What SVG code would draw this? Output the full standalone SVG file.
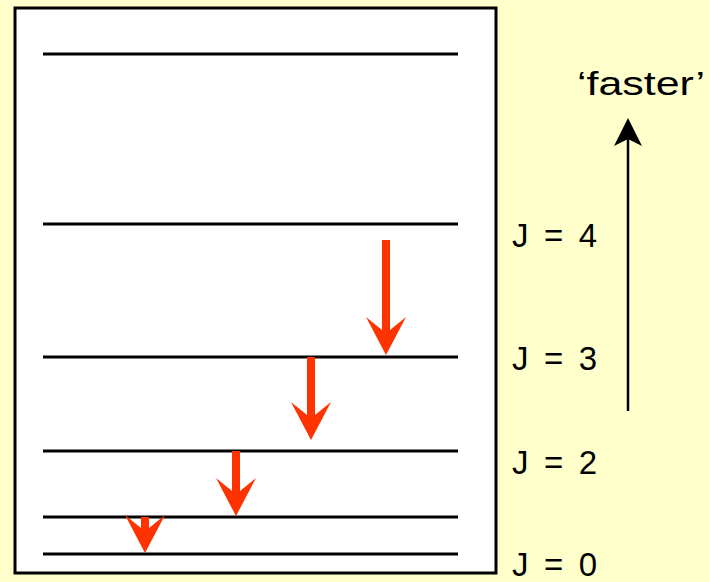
<svg xmlns="http://www.w3.org/2000/svg" width="709" height="582" viewBox="0 0 709 582">
<style>
.lvl{stroke:#000;stroke-width:3;fill:none}
.red{fill:#FF3300}
.lbl{font-family:"Liberation Sans",Arial,sans-serif;font-size:33px;fill:#000}
</style>
<rect x="0" y="0" width="709" height="582" fill="#FFFFCC"/>
<g id="box"><rect x="15" y="8" width="481" height="565" fill="#FFFFFF" stroke="#000" stroke-width="3"/></g>
<g id="levels">
<line class="lvl" x1="43" y1="54" x2="458" y2="54"/>
<line class="lvl" x1="43" y1="224" x2="458" y2="224"/>
<line class="lvl" x1="43" y1="357" x2="458" y2="357"/>
<line class="lvl" x1="43" y1="451" x2="458" y2="451"/>
<line class="lvl" x1="43" y1="517" x2="458" y2="517"/>
<line class="lvl" x1="43" y1="554" x2="458" y2="554"/>
</g>
<g id="connectors">
<polygon class="red" points="382,240 390,240 390,330 406,317 386,355 366,317 382,330"/>
<polygon class="red" points="307,357 315,357 315,415 331,402 311,440 291,402 307,415"/>
<polygon class="red" points="232,451 240,451 240,491 256,478 236,516 216,478 232,491"/>
<polygon class="red" points="141,517 149,517 149,528 165,515 145,553 125,515 141,528"/>
<line x1="628" y1="411" x2="628" y2="138" stroke="#000" stroke-width="2.5"/>
<polygon points="628,118 642,146 628,139 614,146" fill="#000"/>
</g>
<g id="labels">
<text class="lbl" x="512" y="247" textLength="85" lengthAdjust="spacing">J = 4</text>
<text class="lbl" x="512" y="370" textLength="85" lengthAdjust="spacing">J = 3</text>
<text class="lbl" x="512" y="474" textLength="85" lengthAdjust="spacing">J = 2</text>
<text class="lbl" x="512" y="576" textLength="85" lengthAdjust="spacing">J = 0</text>
<text class="lbl" x="577" y="95" textLength="128" lengthAdjust="spacingAndGlyphs">‘faster’</text>
</g>
</svg>
